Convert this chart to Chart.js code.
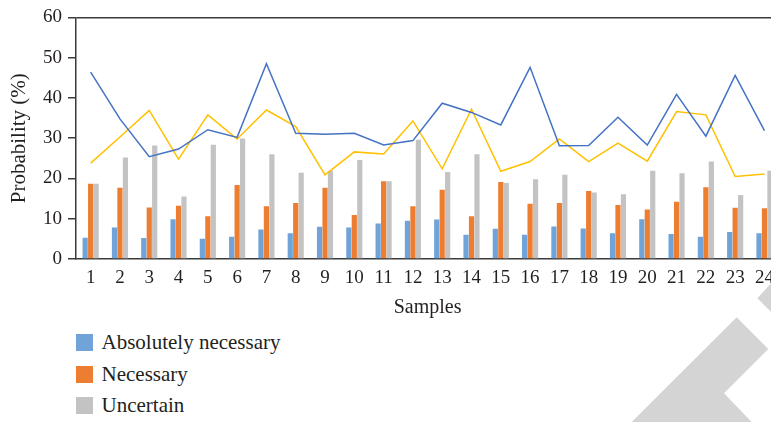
<!DOCTYPE html>
<html><head><meta charset="utf-8">
<script src="https://cdn.jsdelivr.net/npm/chart.js@4"></script>
<style>
html,body{margin:0;padding:0;background:#fff;overflow:hidden;width:771px;height:422px;}
#wrap{position:relative;width:771px;height:422px;overflow:hidden;}
#c{position:absolute;left:0;top:0;}
#legend{position:absolute;left:76px;top:326.75px;font-family:"Liberation Serif","Times New Roman","DejaVu Serif",Times,serif;font-size:21px;color:#231f20;}
.row{display:flex;align-items:center;height:31.5px;white-space:nowrap;}
.sw{width:17px;height:17px;margin-right:8.5px;flex:none;}
#wm{position:absolute;left:0;top:0;}
</style>
</head><body>
<div id="wrap">
<canvas id="c" width="782" height="320"></canvas>
<div id="legend"></div>
<svg id="wm" width="771" height="422"><polygon points="631.7,422 736.7,317.3 768.3,349 724,393.3 751.7,422" fill="#d4d4d4"/><polygon points="771,283.3 757.3,298.3 771,311.7" fill="#d4d4d4"/></svg>
</div>
<script>
const samples = ["1","2","3","4","5","6","7","8","9","10","11","12","13","14","15","16","17","18","19","20","21","22","23","24"];
const absolutelyNecessary = [5.3,7.8,5.2,9.9,5.0,5.5,7.3,6.4,8.0,7.8,8.8,9.5,9.8,6.0,7.5,6.0,8.1,7.6,6.4,9.9,6.2,5.5,6.7,6.4];
const necessary = [18.7,17.7,12.8,13.2,10.6,18.4,13.1,13.9,17.7,10.9,19.3,13.1,17.2,10.6,19.1,13.7,13.9,16.9,13.4,12.3,14.2,17.8,12.7,12.6];
const uncertain = [18.7,25.2,28.2,15.5,28.4,29.9,26.0,21.4,21.9,24.6,19.3,29.6,21.6,26.0,18.9,19.8,20.9,16.5,16.1,21.9,21.3,24.2,15.9,21.9];
const lineBlue = [46.4,34.8,25.4,27.3,32.1,30.2,48.5,31.2,31.0,31.2,28.3,29.4,38.7,36.4,33.3,47.6,28.1,28.2,35.2,28.3,40.9,30.5,45.6,31.9];
const lineYellow = [23.8,30.3,36.9,24.8,35.8,29.8,37.0,32.9,20.9,26.6,26.1,34.3,22.4,37.2,21.8,24.2,29.8,24.2,28.8,24.3,36.6,35.8,20.5,21.1];
const yTicks = [0,10,20,30,40,50,60];

const FONT = "'Liberation Serif', 'Times New Roman', 'DejaVu Serif', Times, serif";
const TXT = "#231f20";
const AX = "#3b3b3b";

const barCommon = {barPercentage:0.95, categoryPercentage:0.56, order:1, borderWidth:0};
const chart = new Chart(document.getElementById('c'), {
  type:'bar',
  data:{
    labels:samples,
    datasets:[
      {type:'line', label:'Series 4', data:lineBlue, borderColor:'#4472C4', backgroundColor:'#4472C4', borderWidth:1.5, pointRadius:0, tension:0, fill:false, order:0},
      {type:'line', label:'Series 5', data:lineYellow, borderColor:'#FFC000', backgroundColor:'#FFC000', borderWidth:1.5, pointRadius:0, tension:0, fill:false, order:0},
      Object.assign({label:'Absolutely necessary', data:absolutelyNecessary, backgroundColor:'#70A3D8'}, barCommon),
      Object.assign({label:'Necessary', data:necessary, backgroundColor:'#ED7D31'}, barCommon),
      Object.assign({label:'Uncertain', data:uncertain, backgroundColor:'#C3C3C3'}, barCommon)
    ]
  },
  options:{
    responsive:false, animation:false, devicePixelRatio:1,
    layout:{padding:{left:0,right:2,top:14,bottom:0}},
    plugins:{legend:{display:false}, tooltip:{enabled:false}},
    scales:{
      x:{
        grid:{display:false, drawTicks:false},
        border:{display:true, color:AX, width:1.5},
        ticks:{font:{family:FONT,size:19}, color:TXT, padding:8, maxRotation:0, autoSkip:false},
        title:{display:true, text:'Samples', font:{family:FONT,size:20}, color:TXT, padding:{top:0,bottom:0}},
        afterFit:(s)=>{s.height=61;}
      },
      y:{
        min:0, max:60,
        afterBuildTicks:(s)=>{s.ticks = yTicks.map(v=>({value:v}));},
        ticks:{font:{family:FONT,size:19}, color:TXT, padding:6},
        grid:{color:(c)=> (c.tick && c.tick.value===60) ? AX : 'rgba(0,0,0,0)', lineWidth:1.5, tickColor:AX, tickLength:8, drawTicks:true},
        border:{display:true, color:AX, width:1.5},
        title:{display:true, text:'Probability (%)', font:{family:FONT,size:21}, color:TXT, padding:{top:7,bottom:0}},
        afterFit:(s)=>{s.width=76;}
      }
    }
  }
});

const leg = document.getElementById('legend');
chart.data.datasets.filter(d=>d.type!=='line').forEach(d=>{
  const r = document.createElement('div'); r.className='row';
  const sw = document.createElement('span'); sw.className='sw'; sw.style.background=d.backgroundColor;
  const t = document.createElement('span'); t.textContent=d.label;
  r.appendChild(sw); r.appendChild(t); leg.appendChild(r);
});
</script>
</body></html>
